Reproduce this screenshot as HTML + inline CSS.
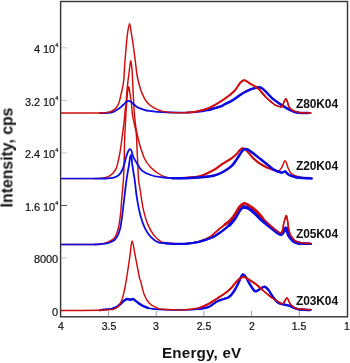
<!DOCTYPE html>
<html><head><meta charset="utf-8"><style>
html,body{margin:0;padding:0;background:#fff;}
body{width:350px;height:363px;position:relative;overflow:hidden;font-family:"Liberation Sans",sans-serif;-webkit-font-smoothing:antialiased;}
.xl,.yl,.lab,.xt,.yt{will-change:transform;}
svg{position:absolute;left:0;top:0;}
.xl{position:absolute;top:320px;width:40px;text-align:center;font-size:10.5px;color:#111;-webkit-text-stroke:0.2px #111;line-height:13px;}
.yl{position:absolute;right:291.5px;font-size:11px;letter-spacing:-0.1px;color:#111;-webkit-text-stroke:0.2px #111;line-height:13px;white-space:nowrap;text-align:right;}
.yl sup{font-size:5.5px;position:relative;top:-1.5px;vertical-align:top;line-height:6px;margin-left:0.3px;}
.lab{position:absolute;left:296px;font-weight:bold;font-size:12px;letter-spacing:-0.12px;color:#111;line-height:14px;}
.xt{position:absolute;left:161.7px;top:344.2px;font-weight:bold;font-size:15.2px;letter-spacing:0.2px;color:#111;line-height:17px;white-space:nowrap;}
.yt{position:absolute;left:-48.3px;top:149.3px;width:110px;height:17px;font-weight:bold;font-size:15.8px;color:#111;line-height:17px;white-space:nowrap;transform:rotate(-90deg);transform-origin:center;text-align:center;}
</style></head><body>
<svg width="350" height="363" viewBox="0 0 350 363">
<line x1="108.50" y1="316" x2="108.50" y2="311" stroke="#a0a0a0" stroke-width="1"/>
<line x1="156.20" y1="316" x2="156.20" y2="311" stroke="#a0a0a0" stroke-width="1"/>
<line x1="203.90" y1="316" x2="203.90" y2="311" stroke="#a0a0a0" stroke-width="1"/>
<line x1="251.60" y1="316" x2="251.60" y2="311" stroke="#a0a0a0" stroke-width="1"/>
<line x1="299.30" y1="316" x2="299.30" y2="311" stroke="#a0a0a0" stroke-width="1"/>
<line x1="61.3" y1="257.98" x2="67" y2="257.98" stroke="#c4c4c4" stroke-width="1"/>
<line x1="61.3" y1="205.46" x2="67" y2="205.46" stroke="#444" stroke-width="1"/>
<line x1="61.3" y1="152.94" x2="67" y2="152.94" stroke="#c4c4c4" stroke-width="1"/>
<line x1="61.3" y1="100.42" x2="67" y2="100.42" stroke="#c4c4c4" stroke-width="1"/>
<line x1="61.3" y1="47.90" x2="67" y2="47.90" stroke="#c4c4c4" stroke-width="1"/>
<path d="M61.00,244.40 C66.67,244.40 88.33,244.47 95.00,244.40 C101.67,244.33 98.98,244.33 101.00,244.00 C103.02,243.67 105.12,243.17 107.10,242.40 C109.08,241.63 111.37,240.72 112.90,239.40 C114.43,238.08 115.35,236.57 116.30,234.50 C117.25,232.43 118.00,229.58 118.60,227.00 C119.20,224.42 119.52,221.83 119.90,219.00 C120.28,216.17 120.58,213.50 120.90,210.00 C121.22,206.50 121.38,203.00 121.80,198.00 C122.22,193.00 123.00,186.33 123.40,180.00 C123.80,173.67 124.00,166.67 124.20,160.00 C124.40,153.33 124.37,146.67 124.60,140.00 C124.83,133.33 125.32,125.33 125.60,120.00 C125.88,114.67 126.03,112.00 126.30,108.00 C126.57,104.00 126.93,99.00 127.20,96.00 C127.47,93.00 127.68,91.53 127.90,90.00 C128.12,88.47 128.28,87.05 128.50,86.80 C128.72,86.55 128.93,87.23 129.20,88.50 C129.47,89.77 129.72,91.82 130.10,94.40 C130.48,96.98 131.10,100.57 131.50,104.00 C131.90,107.43 131.98,111.50 132.50,115.00 C133.02,118.50 133.97,121.87 134.60,125.00 C135.23,128.13 135.90,130.03 136.30,133.80 C136.70,137.57 136.77,142.90 137.00,147.60 C137.23,152.30 137.43,156.60 137.70,162.00 C137.97,167.40 138.18,175.33 138.60,180.00 C139.02,184.67 139.72,186.83 140.20,190.00 C140.68,193.17 140.93,195.57 141.50,199.00 C142.07,202.43 142.55,206.37 143.60,210.60 C144.65,214.83 146.07,220.27 147.80,224.40 C149.53,228.53 151.88,232.58 154.00,235.40 C156.12,238.22 158.67,240.10 160.50,241.30 C162.33,242.50 162.93,242.23 165.00,242.60 C167.07,242.97 169.45,243.35 172.90,243.50 C176.35,243.65 181.42,243.85 185.70,243.50 C189.98,243.15 194.32,242.68 198.60,241.40 C202.88,240.12 207.83,237.97 211.40,235.80 C214.97,233.63 217.77,230.27 220.00,228.40 C222.23,226.53 223.20,225.85 224.80,224.60 C226.40,223.35 227.98,222.50 229.60,220.90 C231.22,219.30 232.88,217.28 234.50,215.00 C236.12,212.72 237.70,209.13 239.30,207.20 C240.90,205.27 242.50,203.70 244.10,203.40 C245.70,203.10 246.98,204.25 248.90,205.40 C250.82,206.55 253.35,208.27 255.60,210.30 C257.85,212.33 260.12,215.22 262.40,217.60 C264.68,219.98 267.02,222.48 269.30,224.60 C271.58,226.72 274.17,228.87 276.10,230.30 C278.03,231.73 279.83,233.17 280.90,233.20 C281.97,233.23 282.03,232.10 282.50,230.50 C282.97,228.90 283.28,225.52 283.70,223.60 C284.12,221.68 284.57,220.32 285.00,219.00 C285.43,217.68 285.87,215.37 286.30,215.70 C286.73,216.03 287.20,218.78 287.60,221.00 C288.00,223.22 288.27,226.75 288.70,229.00 C289.13,231.25 289.72,233.20 290.20,234.50 C290.68,235.80 290.90,235.85 291.60,236.80 C292.30,237.75 293.57,239.40 294.40,240.20 C295.23,241.00 295.28,241.13 296.60,241.60 C297.92,242.07 300.00,242.68 302.30,243.00 C304.60,243.32 309.05,243.42 310.40,243.50" fill="none" stroke="#cf0c0c" stroke-width="1.45" stroke-linejoin="round" stroke-linecap="round"/>
<path d="M61.00,178.60 C66.17,178.60 85.07,178.68 92.00,178.60 C98.93,178.52 99.88,178.42 102.60,178.10 C105.32,177.78 106.58,177.50 108.30,176.70 C110.02,175.90 111.57,174.73 112.90,173.30 C114.23,171.87 115.45,170.00 116.30,168.10 C117.15,166.20 117.43,164.25 118.00,161.90 C118.57,159.55 119.18,156.82 119.70,154.00 C120.22,151.18 120.70,147.83 121.10,145.00 C121.50,142.17 121.57,141.17 122.10,137.00 C122.63,132.83 123.78,124.50 124.30,120.00 C124.82,115.50 124.93,112.50 125.20,110.00 C125.47,107.50 125.57,108.67 125.90,105.00 C126.23,101.33 126.65,93.58 127.20,88.00 C127.75,82.42 128.58,76.03 129.20,71.50 C129.82,66.97 130.40,60.72 130.90,60.80 C131.40,60.88 131.87,67.47 132.20,72.00 C132.53,76.53 132.70,83.83 132.90,88.00 C133.10,92.17 133.18,93.08 133.40,97.00 C133.62,100.92 133.93,107.67 134.20,111.50 C134.47,115.33 134.65,116.92 135.00,120.00 C135.35,123.08 135.53,125.95 136.30,130.00 C137.07,134.05 138.22,139.52 139.60,144.30 C140.98,149.08 142.77,154.87 144.60,158.70 C146.43,162.53 148.43,164.92 150.60,167.30 C152.77,169.68 155.28,171.45 157.60,173.00 C159.92,174.55 162.10,175.77 164.50,176.60 C166.90,177.43 168.47,177.80 172.00,178.00 C175.53,178.20 181.27,178.07 185.70,177.80 C190.13,177.53 195.27,177.03 198.60,176.40 C201.93,175.77 203.08,175.12 205.70,174.00 C208.32,172.88 211.43,171.42 214.30,169.70 C217.17,167.98 220.03,165.58 222.90,163.70 C225.77,161.82 229.22,160.02 231.50,158.40 C233.78,156.78 235.27,155.32 236.60,154.00 C237.93,152.68 238.60,151.43 239.50,150.50 C240.40,149.57 241.08,148.62 242.00,148.40 C242.92,148.18 244.02,148.58 245.00,149.20 C245.98,149.82 246.47,150.57 247.90,152.10 C249.33,153.63 251.47,156.38 253.60,158.40 C255.73,160.42 258.32,162.60 260.70,164.20 C263.08,165.80 265.73,166.98 267.90,168.00 C270.07,169.02 271.90,169.83 273.70,170.30 C275.50,170.77 277.38,171.23 278.70,170.80 C280.02,170.37 280.80,168.95 281.60,167.70 C282.40,166.45 282.92,164.45 283.50,163.30 C284.08,162.15 284.58,160.80 285.10,160.80 C285.62,160.80 286.12,162.15 286.60,163.30 C287.08,164.45 287.28,166.05 288.00,167.70 C288.72,169.35 289.47,171.77 290.90,173.20 C292.33,174.63 294.47,175.55 296.60,176.30 C298.73,177.05 301.80,177.38 303.70,177.70 C305.60,178.02 307.28,178.12 308.00,178.20" fill="none" stroke="#cf0c0c" stroke-width="1.45" stroke-linejoin="round" stroke-linecap="round"/>
<path d="M61.00,244.40 C66.67,244.40 89.33,244.40 95.00,244.40" fill="none" stroke="#0c0ce2" stroke-width="1.50" stroke-linejoin="round" stroke-linecap="round"/><path d="M95.00,244.40 C96.33,244.32 100.98,244.08 103.00,243.90 C105.02,243.72 105.93,243.53 107.10,243.30 C108.27,243.07 109.03,242.87 110.00,242.50 C110.97,242.13 112.05,241.62 112.90,241.10 C113.75,240.58 114.25,240.43 115.10,239.40 C115.95,238.37 117.13,236.80 118.00,234.90 C118.87,233.00 119.75,230.15 120.30,228.00 C120.85,225.85 120.97,224.17 121.30,222.00 C121.63,219.83 121.80,219.02 122.30,215.00 C122.80,210.98 123.60,203.73 124.30,197.90 C125.00,192.07 125.72,185.52 126.50,180.00 C127.28,174.48 128.38,168.63 129.00,164.80 C129.62,160.97 129.87,158.65 130.20,157.00 C130.53,155.35 130.77,154.90 131.00,154.90 C131.23,154.90 131.38,155.35 131.60,157.00 C131.82,158.65 131.78,160.97 132.30,164.80 C132.82,168.63 133.93,174.48 134.70,180.00 C135.47,185.52 135.93,191.93 136.90,197.90 C137.87,203.87 139.15,210.72 140.50,215.80 C141.85,220.88 143.22,224.82 145.00,228.40 C146.78,231.98 148.97,234.98 151.20,237.30 C153.43,239.62 156.10,241.32 158.40,242.30 C160.70,243.28 162.58,242.95 165.00,243.20 C167.42,243.45 169.45,243.70 172.90,243.80 C176.35,243.90 181.42,244.10 185.70,243.80 C189.98,243.50 194.32,243.00 198.60,242.00 C202.88,241.00 207.55,239.57 211.40,237.80 C215.25,236.03 218.70,233.53 221.70,231.40 C224.70,229.27 227.25,227.12 229.40,225.00 C231.55,222.88 232.88,221.20 234.60,218.70 C236.32,216.20 238.42,211.90 239.70,210.00 C240.98,208.10 241.57,207.78 242.30,207.30 C243.03,206.82 243.03,206.95 244.10,207.10 C245.17,207.25 246.78,207.08 248.70,208.20 C250.62,209.32 253.32,211.75 255.60,213.80 C257.88,215.85 260.12,218.45 262.40,220.50 C264.68,222.55 267.02,224.25 269.30,226.10 C271.58,227.95 274.17,230.23 276.10,231.60 C278.03,232.97 279.67,234.32 280.90,234.30 C282.13,234.28 282.67,232.55 283.50,231.50 C284.33,230.45 285.23,228.00 285.90,228.00 C286.57,228.00 286.92,230.10 287.50,231.50 C288.08,232.90 288.37,234.77 289.40,236.40 C290.43,238.03 292.03,240.15 293.70,241.30 C295.37,242.45 296.52,242.88 299.40,243.30 C302.28,243.72 309.07,243.72 311.00,243.80" fill="none" stroke="#0c0ce2" stroke-width="1.80" stroke-linejoin="round" stroke-linecap="round"/>
<path d="M61.00,178.60 C66.67,178.60 89.33,178.60 95.00,178.60" fill="none" stroke="#0c0ce2" stroke-width="1.50" stroke-linejoin="round" stroke-linecap="round"/><path d="M95.00,178.60 C96.83,178.58 103.02,178.62 106.00,178.50 C108.98,178.38 110.80,178.43 112.90,177.90 C115.00,177.37 117.08,176.53 118.60,175.30 C120.12,174.07 121.05,172.38 122.00,170.50 C122.95,168.62 123.58,166.33 124.30,164.00 C125.02,161.67 125.60,158.73 126.30,156.50 C127.00,154.27 127.90,151.83 128.50,150.60 C129.10,149.37 129.42,149.10 129.90,149.10 C130.38,149.10 130.85,149.37 131.40,150.60 C131.95,151.83 132.38,154.55 133.20,156.50 C134.02,158.45 134.83,159.95 136.30,162.30 C137.77,164.65 139.62,168.48 142.00,170.60 C144.38,172.72 147.48,173.90 150.60,175.00 C153.72,176.10 157.13,176.67 160.70,177.20 C164.27,177.73 167.83,178.03 172.00,178.20 C176.17,178.37 180.42,178.40 185.70,178.20 C190.98,178.00 198.93,177.45 203.70,177.00 C208.47,176.55 211.10,176.33 214.30,175.50 C217.50,174.67 220.03,173.55 222.90,172.00 C225.77,170.45 229.22,168.30 231.50,166.20 C233.78,164.10 235.18,161.38 236.60,159.40 C238.02,157.42 239.02,155.77 240.00,154.30 C240.98,152.83 241.67,151.47 242.50,150.60 C243.33,149.73 244.10,149.27 245.00,149.10 C245.90,148.93 246.47,148.85 247.90,149.60 C249.33,150.35 251.47,151.98 253.60,153.60 C255.73,155.22 258.32,157.40 260.70,159.30 C263.08,161.20 265.73,163.28 267.90,165.00 C270.07,166.72 271.53,168.35 273.70,169.60 C275.87,170.85 279.32,172.08 280.90,172.50 C282.48,172.92 282.50,172.28 283.20,172.10 C283.90,171.92 284.47,171.22 285.10,171.40 C285.73,171.58 286.28,172.57 287.00,173.20 C287.72,173.83 287.80,174.50 289.40,175.20 C291.00,175.90 294.22,176.92 296.60,177.40 C298.98,177.88 301.20,177.93 303.70,178.10 C306.20,178.27 310.28,178.35 311.60,178.40" fill="none" stroke="#0c0ce2" stroke-width="1.80" stroke-linejoin="round" stroke-linecap="round"/>
<path d="M100.00,113.00 C100.83,113.00 103.23,113.08 105.00,113.00 C106.77,112.92 109.10,112.73 110.60,112.50 C112.10,112.27 112.77,112.15 114.00,111.60 C115.23,111.05 116.82,109.98 118.00,109.20 C119.18,108.42 120.05,107.80 121.10,106.90 C122.15,106.00 123.40,104.67 124.30,103.80 C125.20,102.93 125.77,102.20 126.50,101.70 C127.23,101.20 127.97,100.80 128.70,100.80 C129.43,100.80 130.17,101.20 130.90,101.70 C131.63,102.20 132.10,102.93 133.10,103.80 C134.10,104.67 135.75,106.13 136.90,106.90 C138.05,107.67 138.82,107.92 140.00,108.40 C141.18,108.88 142.50,109.38 144.00,109.80 C145.50,110.22 146.80,110.55 149.00,110.90 C151.20,111.25 153.70,111.63 157.20,111.90 C160.70,112.17 165.37,112.38 170.00,112.50 C174.63,112.62 180.72,112.65 185.00,112.60 C189.28,112.55 191.77,112.63 195.70,112.20 C199.63,111.77 204.32,111.00 208.60,110.00 C212.88,109.00 218.67,107.20 221.40,106.20 C224.13,105.20 223.22,104.93 225.00,104.00 C226.78,103.07 229.72,102.00 232.10,100.60 C234.48,99.20 237.38,96.90 239.30,95.60 C241.22,94.30 241.82,93.78 243.60,92.80 C245.38,91.82 248.10,90.50 250.00,89.70 C251.90,88.90 253.60,88.42 255.00,88.00 C256.40,87.58 257.23,87.15 258.40,87.20 C259.57,87.25 260.90,87.68 262.00,88.30 C263.10,88.92 263.67,89.62 265.00,90.90 C266.33,92.18 268.57,94.58 270.00,96.00 C271.43,97.42 272.12,98.18 273.60,99.40 C275.08,100.62 276.88,101.93 278.90,103.30 C280.92,104.67 283.42,106.28 285.70,107.60 C287.98,108.92 290.72,110.37 292.60,111.20 C294.48,112.03 295.15,112.30 297.00,112.60 C298.85,112.90 301.77,112.93 303.70,113.00 C305.63,113.07 307.78,113.00 308.60,113.00" fill="none" stroke="#0c0ce2" stroke-width="1.80" stroke-linejoin="round" stroke-linecap="round"/>
<path d="M61.00,113.00 C67.50,113.00 92.50,113.07 100.00,113.00 C107.50,112.93 104.23,112.82 106.00,112.60 C107.77,112.38 109.08,112.32 110.60,111.70 C112.12,111.08 113.87,110.03 115.10,108.90 C116.33,107.77 117.23,106.33 118.00,104.90 C118.77,103.47 119.22,101.93 119.70,100.30 C120.18,98.67 120.52,96.82 120.90,95.10 C121.28,93.38 121.52,92.52 122.00,90.00 C122.48,87.48 123.37,84.00 123.80,80.00 C124.23,76.00 124.22,71.37 124.60,66.00 C124.98,60.63 125.60,53.32 126.10,47.80 C126.60,42.28 127.02,36.92 127.60,32.90 C128.18,28.88 128.98,23.70 129.60,23.70 C130.22,23.70 130.63,28.88 131.30,32.90 C131.97,36.92 132.90,42.85 133.60,47.80 C134.30,52.75 134.90,57.90 135.50,62.60 C136.10,67.30 136.38,71.63 137.20,76.00 C138.02,80.37 139.33,85.35 140.40,88.80 C141.47,92.25 142.40,94.32 143.60,96.70 C144.80,99.08 145.87,101.23 147.60,103.10 C149.33,104.97 151.60,106.57 154.00,107.90 C156.40,109.23 159.33,110.35 162.00,111.10 C164.67,111.85 166.05,112.15 170.00,112.40 C173.95,112.65 181.42,112.73 185.70,112.60 C189.98,112.47 191.88,112.33 195.70,111.60 C199.52,110.87 204.32,109.97 208.60,108.20 C212.88,106.43 218.67,102.60 221.40,101.00 C224.13,99.40 223.45,99.73 225.00,98.60 C226.55,97.47 229.03,95.58 230.70,94.20 C232.37,92.82 233.78,91.67 235.00,90.30 C236.22,88.93 237.08,87.30 238.00,86.00 C238.92,84.70 239.57,83.45 240.50,82.50 C241.43,81.55 242.68,80.58 243.60,80.30 C244.52,80.02 245.05,80.33 246.00,80.80 C246.95,81.27 247.80,82.17 249.30,83.10 C250.80,84.03 253.33,85.32 255.00,86.40 C256.67,87.48 257.63,87.95 259.30,89.60 C260.97,91.25 262.87,94.12 265.00,96.30 C267.13,98.48 270.43,101.28 272.10,102.70 C273.77,104.12 273.77,104.15 275.00,104.80 C276.23,105.45 278.33,106.27 279.50,106.60 C280.67,106.93 281.28,107.48 282.00,106.80 C282.72,106.12 283.15,103.85 283.80,102.50 C284.45,101.15 285.28,98.78 285.90,98.70 C286.52,98.62 286.98,100.65 287.50,102.00 C288.02,103.35 288.20,105.45 289.00,106.80 C289.80,108.15 290.80,109.18 292.30,110.10 C293.80,111.02 296.05,111.82 298.00,112.30 C299.95,112.78 301.85,112.88 304.00,113.00 C306.15,113.12 309.75,113.00 310.90,113.00" fill="none" stroke="#cf0c0c" stroke-width="1.45" stroke-linejoin="round" stroke-linecap="round"/>
<path d="M99.00,310.40 C99.17,310.38 99.22,310.45 100.00,310.30 C100.78,310.15 101.55,309.78 103.70,309.50 C105.85,309.22 110.62,309.12 112.90,308.60 C115.18,308.08 116.07,307.23 117.40,306.40 C118.73,305.57 119.75,304.60 120.90,303.60 C122.05,302.60 123.22,301.17 124.30,300.40 C125.38,299.63 126.38,299.12 127.40,299.00 C128.42,298.88 129.47,299.70 130.40,299.70 C131.33,299.70 132.07,298.77 133.00,299.00 C133.93,299.23 134.93,300.32 136.00,301.10 C137.07,301.88 138.12,302.83 139.40,303.70 C140.68,304.57 142.27,305.58 143.70,306.30 C145.13,307.02 146.33,307.55 148.00,308.00 C149.67,308.45 151.22,308.72 153.70,309.00 C156.18,309.28 157.68,309.55 162.90,309.70 C168.12,309.85 178.92,310.05 185.00,309.90 C191.08,309.75 195.47,309.28 199.40,308.80 C203.33,308.32 205.67,308.22 208.60,307.00 C211.53,305.78 214.43,302.83 217.00,301.50 C219.57,300.17 222.00,299.75 224.00,299.00 C226.00,298.25 227.42,298.17 229.00,297.00 C230.58,295.83 232.05,294.08 233.50,292.00 C234.95,289.92 236.40,287.08 237.70,284.50 C239.00,281.92 240.43,278.18 241.30,276.50 C242.17,274.82 242.35,274.57 242.90,274.40 C243.45,274.23 243.92,274.73 244.60,275.50 C245.28,276.27 246.10,277.50 247.00,279.00 C247.90,280.50 248.67,282.47 250.00,284.50 C251.33,286.53 253.42,290.40 255.00,291.20 C256.58,292.00 257.92,290.05 259.50,289.30 C261.08,288.55 263.00,286.58 264.50,286.70 C266.00,286.82 267.20,288.45 268.50,290.00 C269.80,291.55 270.73,293.92 272.30,296.00 C273.87,298.08 276.05,301.10 277.90,302.50 C279.75,303.90 281.55,303.87 283.40,304.40 C285.25,304.93 287.13,305.08 289.00,305.70 C290.87,306.32 292.77,307.47 294.60,308.10 C296.43,308.73 297.43,309.18 300.00,309.50 C302.57,309.82 308.33,309.92 310.00,310.00" fill="none" stroke="#0c0ce2" stroke-width="1.80" stroke-linejoin="round" stroke-linecap="round"/>
<path d="M112.90,308.60 C113.65,308.23 116.07,307.23 117.40,306.40 C118.73,305.57 119.75,304.60 120.90,303.60 C122.05,302.60 123.22,301.17 124.30,300.40 C125.38,299.63 126.38,299.12 127.40,299.00 C128.42,298.88 129.47,299.70 130.40,299.70 C131.33,299.70 132.07,298.77 133.00,299.00 C133.93,299.23 134.93,300.32 136.00,301.10 C137.07,301.88 138.12,302.83 139.40,303.70 C140.68,304.57 142.27,305.58 143.70,306.30 C145.13,307.02 147.28,307.72 148.00,308.00" fill="none" stroke="#0c0ce2" stroke-width="2.40" stroke-linejoin="round" stroke-linecap="round"/>
<path d="M61.00,310.50 C67.50,310.47 91.83,310.45 100.00,310.30 C108.17,310.15 107.85,309.75 110.00,309.60 C112.15,309.45 111.67,309.82 112.90,309.40 C114.13,308.98 116.17,308.12 117.40,307.10 C118.63,306.08 119.43,304.88 120.30,303.30 C121.17,301.72 121.93,299.70 122.60,297.60 C123.27,295.50 123.83,292.80 124.30,290.70 C124.77,288.60 125.00,287.20 125.40,285.00 C125.80,282.80 125.95,282.30 126.70,277.50 C127.45,272.70 129.00,262.30 129.90,256.20 C130.80,250.10 131.20,240.90 132.10,240.90 C133.00,240.90 134.08,250.10 135.30,256.20 C136.52,262.30 138.52,273.37 139.40,277.50 C140.28,281.63 139.80,278.18 140.60,281.00 C141.40,283.82 142.78,290.75 144.20,294.40 C145.62,298.05 147.13,300.73 149.10,302.90 C151.07,305.07 153.70,306.33 156.00,307.40 C158.30,308.47 157.95,308.92 162.90,309.30 C167.85,309.68 179.62,309.95 185.70,309.70 C191.78,309.45 195.58,308.77 199.40,307.80 C203.22,306.83 205.63,305.45 208.60,303.90 C211.57,302.35 214.35,300.35 217.20,298.50 C220.05,296.65 223.40,294.52 225.70,292.80 C228.00,291.08 229.57,289.63 231.00,288.20 C232.43,286.77 232.88,285.77 234.30,284.20 C235.72,282.63 237.90,279.98 239.50,278.80 C241.10,277.62 242.20,276.87 243.90,277.10 C245.60,277.33 247.68,279.00 249.70,280.20 C251.72,281.40 253.95,282.75 256.00,284.30 C258.05,285.85 259.90,287.70 262.00,289.50 C264.10,291.30 266.77,293.60 268.60,295.10 C270.43,296.60 271.45,297.42 273.00,298.50 C274.55,299.58 276.32,300.68 277.90,301.60 C279.48,302.52 281.38,304.05 282.50,304.00 C283.62,303.95 283.83,302.32 284.60,301.30 C285.37,300.28 286.22,297.55 287.10,297.90 C287.98,298.25 288.82,301.87 289.90,303.40 C290.98,304.93 292.20,306.17 293.60,307.10 C295.00,308.03 295.97,308.58 298.30,309.00 C300.63,309.42 305.43,309.47 307.60,309.60 C309.77,309.73 310.68,309.77 311.30,309.80" fill="none" stroke="#cf0c0c" stroke-width="1.45" stroke-linejoin="round" stroke-linecap="round"/>
<path d="M208.60,110.00 C210.73,109.37 218.67,107.20 221.40,106.20 C224.13,105.20 223.22,104.93 225.00,104.00 C226.78,103.07 229.72,102.00 232.10,100.60 C234.48,99.20 237.38,96.90 239.30,95.60 C241.22,94.30 241.82,93.78 243.60,92.80 C245.38,91.82 248.10,90.50 250.00,89.70 C251.90,88.90 253.60,88.42 255.00,88.00 C256.40,87.58 257.23,87.15 258.40,87.20 C259.57,87.25 260.90,87.68 262.00,88.30 C263.10,88.92 263.67,89.62 265.00,90.90 C266.33,92.18 268.57,94.58 270.00,96.00 C271.43,97.42 272.12,98.18 273.60,99.40 C275.08,100.62 276.88,101.93 278.90,103.30 C280.92,104.67 283.42,106.28 285.70,107.60 C287.98,108.92 290.72,110.37 292.60,111.20 C294.48,112.03 295.15,112.30 297.00,112.60 C298.85,112.90 301.77,112.93 303.70,113.00 C305.63,113.07 307.78,113.00 308.60,113.00" fill="none" stroke="#0c0ce2" stroke-width="2.40" stroke-linejoin="round" stroke-linecap="round"/>
<path d="M185.70,112.60 C187.37,112.43 191.88,112.33 195.70,111.60 C199.52,110.87 204.32,109.97 208.60,108.20 C212.88,106.43 218.67,102.60 221.40,101.00 C224.13,99.40 223.45,99.73 225.00,98.60 C226.55,97.47 229.03,95.58 230.70,94.20 C232.37,92.82 233.78,91.67 235.00,90.30 C236.22,88.93 237.08,87.30 238.00,86.00 C238.92,84.70 239.57,83.45 240.50,82.50 C241.43,81.55 242.68,80.58 243.60,80.30 C244.52,80.02 245.05,80.33 246.00,80.80 C246.95,81.27 247.80,82.17 249.30,83.10 C250.80,84.03 253.33,85.32 255.00,86.40 C256.67,87.48 257.63,87.95 259.30,89.60 C260.97,91.25 264.05,95.18 265.00,96.30" fill="none" stroke="#cf0c0c" stroke-width="1.90" stroke-linejoin="round" stroke-linecap="round"/>
<path d="M255.00,86.40 C255.72,86.93 257.63,87.95 259.30,89.60 C260.97,91.25 262.87,94.12 265.00,96.30 C267.13,98.48 270.43,101.28 272.10,102.70 C273.77,104.12 273.77,104.15 275.00,104.80 C276.23,105.45 278.33,106.27 279.50,106.60 C280.67,106.93 281.28,107.48 282.00,106.80 C282.72,106.12 283.15,103.85 283.80,102.50 C284.45,101.15 285.28,98.78 285.90,98.70 C286.52,98.62 286.98,100.65 287.50,102.00 C288.02,103.35 288.20,105.45 289.00,106.80 C289.80,108.15 290.80,109.18 292.30,110.10 C293.80,111.02 296.05,111.82 298.00,112.30 C299.95,112.78 301.85,112.88 304.00,113.00 C306.15,113.12 309.75,113.00 310.90,113.00" fill="none" stroke="#cf0c0c" stroke-width="1.45" stroke-linejoin="round" stroke-linecap="round"/>
<path d="M172.00,178.00 C174.28,177.97 181.27,178.07 185.70,177.80 C190.13,177.53 195.27,177.03 198.60,176.40 C201.93,175.77 203.08,175.12 205.70,174.00 C208.32,172.88 211.43,171.42 214.30,169.70 C217.17,167.98 220.03,165.58 222.90,163.70 C225.77,161.82 229.22,160.02 231.50,158.40 C233.78,156.78 235.27,155.32 236.60,154.00 C237.93,152.68 238.60,151.43 239.50,150.50 C240.40,149.57 241.08,148.62 242.00,148.40 C242.92,148.18 244.02,148.58 245.00,149.20 C245.98,149.82 246.47,150.57 247.90,152.10 C249.33,153.63 251.47,156.38 253.60,158.40 C255.73,160.42 258.32,162.60 260.70,164.20 C263.08,165.80 266.70,167.37 267.90,168.00" fill="none" stroke="#cf0c0c" stroke-width="2.00" stroke-linejoin="round" stroke-linecap="round"/>
<path d="M172.00,178.20 C174.28,178.20 180.42,178.40 185.70,178.20 C190.98,178.00 198.93,177.45 203.70,177.00 C208.47,176.55 211.10,176.33 214.30,175.50 C217.50,174.67 220.03,173.55 222.90,172.00 C225.77,170.45 229.22,168.30 231.50,166.20 C233.78,164.10 235.18,161.38 236.60,159.40 C238.02,157.42 239.02,155.77 240.00,154.30 C240.98,152.83 241.67,151.47 242.50,150.60 C243.33,149.73 244.10,149.27 245.00,149.10 C245.90,148.93 246.47,148.85 247.90,149.60 C249.33,150.35 251.47,151.98 253.60,153.60 C255.73,155.22 258.32,157.40 260.70,159.30 C263.08,161.20 265.73,163.28 267.90,165.00 C270.07,166.72 271.53,168.35 273.70,169.60 C275.87,170.85 279.32,172.08 280.90,172.50 C282.48,172.92 282.50,172.28 283.20,172.10 C283.90,171.92 284.47,171.22 285.10,171.40 C285.73,171.58 286.28,172.57 287.00,173.20 C287.72,173.83 287.80,174.50 289.40,175.20 C291.00,175.90 294.22,176.92 296.60,177.40 C298.98,177.88 301.20,177.93 303.70,178.10 C306.20,178.27 310.28,178.35 311.60,178.40" fill="none" stroke="#0c0ce2" stroke-width="2.50" stroke-linejoin="round" stroke-linecap="round"/>
<path d="M165.00,243.20 C166.32,243.30 169.45,243.70 172.90,243.80 C176.35,243.90 181.42,244.10 185.70,243.80 C189.98,243.50 194.32,243.00 198.60,242.00 C202.88,241.00 207.55,239.57 211.40,237.80 C215.25,236.03 218.70,233.53 221.70,231.40 C224.70,229.27 227.25,227.12 229.40,225.00 C231.55,222.88 232.88,221.20 234.60,218.70 C236.32,216.20 238.42,211.90 239.70,210.00 C240.98,208.10 241.57,207.78 242.30,207.30 C243.03,206.82 243.03,206.95 244.10,207.10 C245.17,207.25 246.78,207.08 248.70,208.20 C250.62,209.32 253.32,211.75 255.60,213.80 C257.88,215.85 260.12,218.45 262.40,220.50 C264.68,222.55 267.02,224.25 269.30,226.10 C271.58,227.95 274.17,230.23 276.10,231.60 C278.03,232.97 279.67,234.32 280.90,234.30 C282.13,234.28 282.67,232.55 283.50,231.50 C284.33,230.45 285.23,228.00 285.90,228.00 C286.57,228.00 286.92,230.10 287.50,231.50 C288.08,232.90 288.37,234.77 289.40,236.40 C290.43,238.03 292.03,240.15 293.70,241.30 C295.37,242.45 296.52,242.88 299.40,243.30 C302.28,243.72 309.07,243.72 311.00,243.80" fill="none" stroke="#0c0ce2" stroke-width="2.30" stroke-linejoin="round" stroke-linecap="round"/>
<path d="M229.40,225.00 C230.27,223.95 232.88,221.20 234.60,218.70 C236.32,216.20 238.42,211.90 239.70,210.00 C240.98,208.10 241.57,207.78 242.30,207.30 C243.03,206.82 243.03,206.95 244.10,207.10 C245.17,207.25 246.78,207.08 248.70,208.20 C250.62,209.32 253.32,211.75 255.60,213.80 C257.88,215.85 260.12,218.45 262.40,220.50 C264.68,222.55 267.02,224.25 269.30,226.10 C271.58,227.95 274.17,230.23 276.10,231.60 C278.03,232.97 279.67,234.32 280.90,234.30 C282.13,234.28 282.67,232.55 283.50,231.50 C284.33,230.45 285.23,228.00 285.90,228.00 C286.57,228.00 286.92,230.10 287.50,231.50 C288.08,232.90 288.37,234.77 289.40,236.40 C290.43,238.03 292.03,240.15 293.70,241.30 C295.37,242.45 298.45,242.97 299.40,243.30" fill="none" stroke="#0c0ce2" stroke-width="3.60" stroke-linejoin="round" stroke-linecap="round"/>
<path d="M211.40,235.80 C212.83,234.57 217.77,230.27 220.00,228.40 C222.23,226.53 223.20,225.85 224.80,224.60 C226.40,223.35 227.98,222.50 229.60,220.90 C231.22,219.30 232.88,217.28 234.50,215.00 C236.12,212.72 237.70,209.13 239.30,207.20 C240.90,205.27 242.50,203.70 244.10,203.40 C245.70,203.10 246.98,204.25 248.90,205.40 C250.82,206.55 253.35,208.27 255.60,210.30 C257.85,212.33 260.12,215.22 262.40,217.60 C264.68,219.98 267.02,222.48 269.30,224.60 C271.58,226.72 274.17,228.87 276.10,230.30 C278.03,231.73 279.83,233.17 280.90,233.20 C281.97,233.23 282.03,232.10 282.50,230.50 C282.97,228.90 283.28,225.52 283.70,223.60 C284.12,221.68 284.57,220.32 285.00,219.00 C285.43,217.68 285.87,215.37 286.30,215.70 C286.73,216.03 287.20,218.78 287.60,221.00 C288.00,223.22 288.27,226.75 288.70,229.00 C289.13,231.25 289.72,233.20 290.20,234.50 C290.68,235.80 290.90,235.85 291.60,236.80 C292.30,237.75 293.57,239.40 294.40,240.20 C295.23,241.00 295.28,241.13 296.60,241.60 C297.92,242.07 300.00,242.68 302.30,243.00 C304.60,243.32 309.05,243.42 310.40,243.50" fill="none" stroke="#cf0c0c" stroke-width="1.45" stroke-linejoin="round" stroke-linecap="round"/>
<path d="M224.80,224.60 C225.60,223.98 227.98,222.50 229.60,220.90 C231.22,219.30 232.88,217.28 234.50,215.00 C236.12,212.72 237.70,209.13 239.30,207.20 C240.90,205.27 242.50,203.70 244.10,203.40 C245.70,203.10 246.98,204.25 248.90,205.40 C250.82,206.55 253.35,208.27 255.60,210.30 C257.85,212.33 261.27,216.38 262.40,217.60" fill="none" stroke="#cf0c0c" stroke-width="2.70" stroke-linejoin="round" stroke-linecap="round"/>
<path d="M199.40,308.80 C200.93,308.50 205.67,308.22 208.60,307.00 C211.53,305.78 214.43,302.83 217.00,301.50 C219.57,300.17 222.00,299.75 224.00,299.00 C226.00,298.25 227.42,298.17 229.00,297.00 C230.58,295.83 232.05,294.08 233.50,292.00 C234.95,289.92 236.40,287.08 237.70,284.50 C239.00,281.92 240.43,278.18 241.30,276.50 C242.17,274.82 242.35,274.57 242.90,274.40 C243.45,274.23 243.92,274.73 244.60,275.50 C245.28,276.27 246.10,277.50 247.00,279.00 C247.90,280.50 248.67,282.47 250.00,284.50 C251.33,286.53 253.42,290.40 255.00,291.20 C256.58,292.00 257.92,290.05 259.50,289.30 C261.08,288.55 263.00,286.58 264.50,286.70 C266.00,286.82 267.20,288.45 268.50,290.00 C269.80,291.55 270.73,293.92 272.30,296.00 C273.87,298.08 276.05,301.10 277.90,302.50 C279.75,303.90 281.55,303.87 283.40,304.40 C285.25,304.93 287.13,305.08 289.00,305.70 C290.87,306.32 292.77,307.47 294.60,308.10 C296.43,308.73 297.43,309.18 300.00,309.50 C302.57,309.82 308.33,309.92 310.00,310.00" fill="none" stroke="#0c0ce2" stroke-width="2.40" stroke-linejoin="round" stroke-linecap="round"/>
<path d="M199.40,307.80 C200.93,307.15 205.63,305.45 208.60,303.90 C211.57,302.35 214.35,300.35 217.20,298.50 C220.05,296.65 223.40,294.52 225.70,292.80 C228.00,291.08 229.57,289.63 231.00,288.20 C232.43,286.77 232.88,285.77 234.30,284.20 C235.72,282.63 237.90,279.98 239.50,278.80 C241.10,277.62 242.20,276.87 243.90,277.10 C245.60,277.33 247.68,279.00 249.70,280.20 C251.72,281.40 253.95,282.75 256.00,284.30 C258.05,285.85 261.00,288.63 262.00,289.50" fill="none" stroke="#cf0c0c" stroke-width="2.00" stroke-linejoin="round" stroke-linecap="round"/>
<path d="M256.00,284.30 C257.00,285.17 259.90,287.70 262.00,289.50 C264.10,291.30 266.77,293.60 268.60,295.10 C270.43,296.60 271.45,297.42 273.00,298.50 C274.55,299.58 276.32,300.68 277.90,301.60 C279.48,302.52 281.38,304.05 282.50,304.00 C283.62,303.95 283.83,302.32 284.60,301.30 C285.37,300.28 286.22,297.55 287.10,297.90 C287.98,298.25 288.82,301.87 289.90,303.40 C290.98,304.93 292.20,306.17 293.60,307.10 C295.00,308.03 295.97,308.58 298.30,309.00 C300.63,309.42 305.43,309.47 307.60,309.60 C309.77,309.73 310.68,309.77 311.30,309.80" fill="none" stroke="#cf0c0c" stroke-width="1.45" stroke-linejoin="round" stroke-linecap="round"/>
<rect x="60.6" y="1.5" width="286.9" height="315.3" fill="none" stroke="#333" stroke-width="1.4"/>
</svg>
<div class="xl" style="left:40.80px">4</div><div class="xl" style="left:88.50px">3.5</div><div class="xl" style="left:136.20px">3</div><div class="xl" style="left:183.90px">2.5</div><div class="xl" style="left:231.60px">2</div><div class="xl" style="left:279.30px">1.5</div><div class="xl" style="left:327.00px">1</div>
<div class="yl" style="top:305.90px">0</div><div class="yl" style="top:253.38px">8000</div><div class="yl" style="top:200.86px">1.6 10<sup>4</sup></div><div class="yl" style="top:148.34px">2.4 10<sup>4</sup></div><div class="yl" style="top:95.82px">3.2 10<sup>4</sup></div><div class="yl" style="top:43.30px">4&nbsp;10<sup>4</sup></div>
<div class="lab" style="top:97px">Z80K04</div>
<div class="lab" style="top:159px">Z20K04</div>
<div class="lab" style="top:226.5px">Z05K04</div>
<div class="lab" style="top:294px">Z03K04</div>
<div class="xt">Energy, eV</div>
<div class="yt">Intensity, cps</div>
</body></html>
